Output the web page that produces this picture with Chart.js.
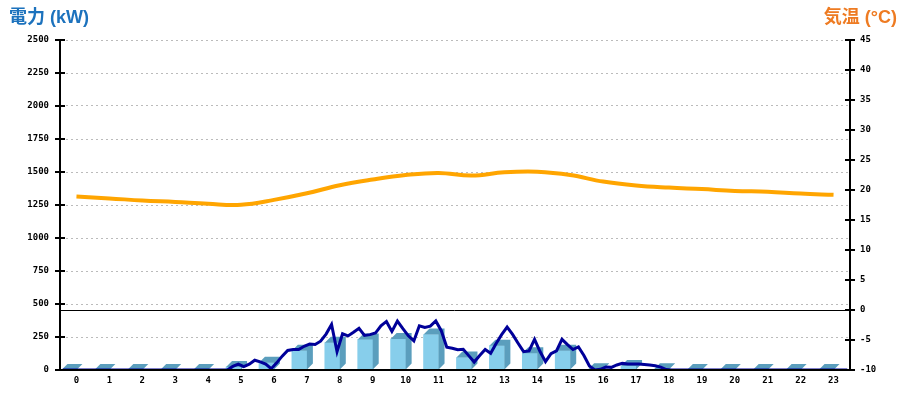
<!doctype html>
<html>
<head>
    <meta charset="UTF-8"/>
    <title>電力・気温</title>
    <style type="text/css">
        body {
            margin: 0;
            padding: 0;
            background-color: #fff;
        }
        .wrap {
            position: relative;
            width: 900px;
            height: 400px;
        }
        .title {
            position: absolute;
            top: 6px;
            font-family: 'Liberation Sans', 'Noto Sans CJK JP', sans-serif;
            font-weight: bold;
            font-size: 18px;
            line-height: 22px;
        }
        .left { left: 9px; color: #1c72bd; }
        .right { right: 3px; color: #ee7b22; }
    </style>
</head>
<body>
    <div class="wrap">
        <canvas id="myChart" width="900" height="400"></canvas>
        <div class="title left">電力 (kW)</div>
        <div class="title right">気温 (°C)</div>
    </div>

    <script src="https://cdn.jsdelivr.net/npm/chart.js"></script>

    <script>
        // hours on the x axis
        const hours = ['0','1','2','3','4','5','6','7','8','9','10','11','12','13','14','15','16','17','18','19','20','21','22','23'];

        // hourly power bars (kW)
        const hourlyPower = [0, 0, 0, 0, 0, 23, 55, 145, 207, 232, 235, 268, 94, 184, 126, 146, 5, 30, 5, 0, 0, 0, 0, 0];

        // hourly temperature (°C)
        const temperature = [18.9, 18.6, 18.25, 18.0, 17.7, 17.55, 18.35, 19.45, 20.8, 21.75, 22.5, 22.85,
                             22.4, 22.95, 23.05, 22.5, 21.4, 20.75, 20.4, 20.15, 19.85, 19.7, 19.4, 19.2];

        // 10 minute power readings (kW), 144 values from 0:00
        const power10min = [
            0, 0, 0, 0, 0, 0, 0, 0, 0, 0, 0, 0,
            0, 0, 0, 0, 0, 0, 0, 0, 0, 0, 0, 0,
            0, 0, 0, 0, 0, 0, 0, 27, 45, 25, 44, 74,
            62, 45, 10, 54, 105, 148, 155, 155, 180, 196, 193, 218,
            272, 345, 139, 274, 258, 286, 316, 262, 268, 280, 335, 368,
            292, 370, 313, 259, 220, 335, 322, 332, 372, 298, 172, 165,
            154, 157, 109, 60, 109, 155, 127, 201, 268, 325, 270, 203,
            139, 145, 232, 140, 63, 123, 145, 232, 192, 155, 175, 110,
            30, 0, 5, 22, 20, 38, 50, 45, 45, 45, 42, 38,
            32, 22, 3, 0, 0, 0, 0, 0, 0, 0, 0, 0,
            0, 0, 0, 0, 0, 0, 0, 0, 0, 0, 0, 0,
            0, 0, 0, 0, 0, 0, 0, 0, 0, 0, 0, 0
        ];

        const powerPoints = power10min.map((v, i) => ({ x: (i + 0.5) / 6, y: v }));

        // side and top faces of the bars
        const bar3d = {
            id: 'bar3d',
            afterDatasetDraw(chart, args) {
                if (args.index !== 0) return;
                const ctx = chart.ctx;
                const d = 6;
                ctx.save();
                ctx.fillStyle = '#5b9ebd';
                args.meta.data.forEach(el => {
                    const p = el.getProps(['x', 'y', 'base', 'width'], true);
                    const l = p.x - p.width / 2, r = p.x + p.width / 2;
                    ctx.beginPath();
                    ctx.moveTo(l, p.y);
                    ctx.lineTo(l + d, p.y - d);
                    ctx.lineTo(r + d, p.y - d);
                    ctx.lineTo(r + d, p.base - d);
                    ctx.lineTo(r, p.base);
                    ctx.lineTo(r, p.y);
                    ctx.closePath();
                    ctx.fill();
                });
                ctx.restore();
            }
        };

        // tick marks crossing the two value axes
        const tickMarks = {
            id: 'tickMarks',
            afterDraw(chart) {
                const ctx = chart.ctx;
                ctx.save();
                ctx.strokeStyle = '#000';
                ctx.lineWidth = 2;
                ['y', 'y2'].forEach(id => {
                    const s = chart.scales[id];
                    const ax = id === 'y' ? chart.chartArea.left : chart.chartArea.right;
                    s.ticks.forEach((t, i) => {
                        const py = Math.round(s.getPixelForTick(i));
                        ctx.beginPath();
                        ctx.moveTo(ax - 5, py);
                        ctx.lineTo(ax + 5, py);
                        ctx.stroke();
                    });
                });
                // axis lines drawn solid on top
                const a = chart.chartArea;
                ctx.beginPath();
                ctx.moveTo(a.left, a.top);
                ctx.lineTo(a.left, a.bottom);
                ctx.lineTo(a.right, a.bottom);
                ctx.lineTo(a.right, a.top);
                ctx.stroke();
                ctx.restore();
            }
        };

        const tickFont = { family: 'DejaVu Sans Mono', size: 9, weight: 'bold' };
        const plain = v => String(v);

        const config = {
            type: 'bar',
            data: {
                labels: hours,
                datasets: [
                    {
                        type: 'bar',
                        label: '電力',
                        data: hourlyPower,
                        backgroundColor: '#87ceeb',
                        borderWidth: 0,
                        barThickness: 15,
                        xAxisID: 'x',
                        yAxisID: 'y',
                        order: 3
                    },
                    {
                        type: 'line',
                        label: '電力 10分',
                        data: powerPoints,
                        borderColor: '#000099',
                        borderWidth: 3,
                        pointRadius: 0,
                        tension: 0,
                        xAxisID: 'xt',
                        yAxisID: 'y',
                        order: 2
                    },
                    {
                        type: 'line',
                        label: '気温',
                        data: temperature,
                        borderColor: '#ffa500',
                        borderWidth: 4,
                        pointRadius: 0,
                        tension: 0.4,
                        xAxisID: 'x',
                        yAxisID: 'y2',
                        order: 1
                    }
                ]
            },
            options: {
                responsive: false,
                animation: false,
                layout: { padding: { top: 40, left: 0, right: 0, bottom: 0 } },
                plugins: {
                    legend: { display: false },
                    tooltip: { enabled: false }
                },
                scales: {
                    x: {
                        type: 'category',
                        offset: true,
                        grid: { display: false, drawTicks: false },
                        border: { display: true, color: '#000', width: 2 },
                        ticks: { color: '#000', font: tickFont, padding: 5, maxRotation: 0, autoSkip: false },
                        afterFit(s) { s.height = 30; }
                    },
                    xt: {
                        type: 'linear',
                        min: 0,
                        max: 24,
                        offset: false,
                        grid: { offset: false },
                        display: false
                    },
                    y: {
                        position: 'left',
                        min: 0,
                        max: 2500,
                        ticks: { stepSize: 250, color: '#000', font: tickFont, padding: 11, callback: plain },
                        grid: { color: '#bbbbbb', drawTicks: false, lineWidth: 1 },
                        border: { display: true, color: '#000', width: 2, dash: [2, 3] },
                        afterFit(s) { s.width = 60; }
                    },
                    y2: {
                        position: 'right',
                        min: -10,
                        max: 45,
                        ticks: { stepSize: 5, color: '#000', font: tickFont, padding: 10, callback: plain },
                        grid: {
                            drawTicks: false,
                            lineWidth: 1,
                            color: c => (c.tick && c.tick.value === 0) ? '#000' : 'rgba(0,0,0,0)'
                        },
                        border: { display: true, color: '#000', width: 2 },
                        afterFit(s) { s.width = 50; }
                    }
                }
            },
            plugins: [bar3d, tickMarks]
        };

        const myChart = new Chart(document.getElementById('myChart'), config);
    </script>
</body>
</html>
